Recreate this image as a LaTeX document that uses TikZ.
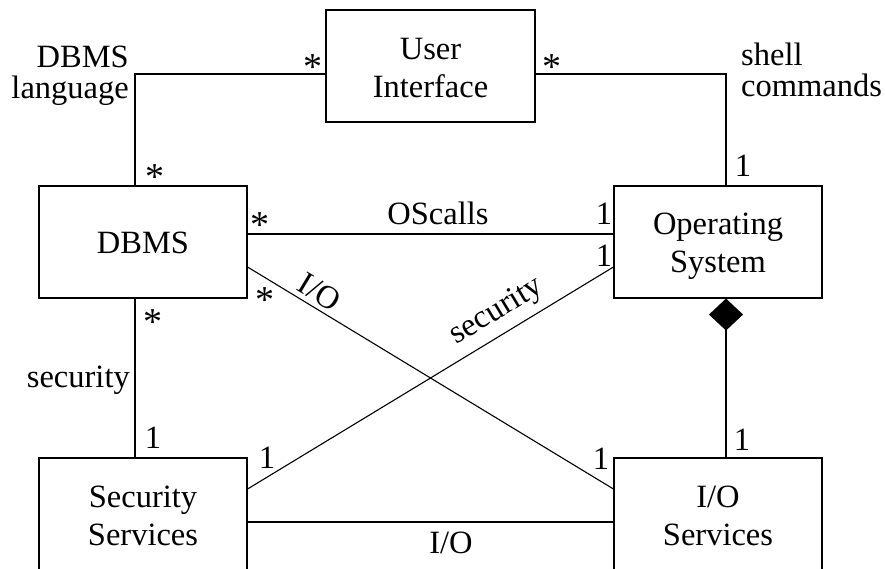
\documentclass[tikz,border=0pt]{standalone}
\usepackage{fontspec}
\setmainfont{Liberation Serif}
\usetikzlibrary{arrows.meta}
\begin{document}
\begin{tikzpicture}[x=1pt,y=-1pt,
  every node/.style={font=\fontsize{32.5}{38}\selectfont},
  cls/.style={draw, line width=1.1pt, minimum width=208pt, minimum height=112pt, align=center, inner sep=0pt, text depth=0pt},
  assoc/.style={line width=1.1pt},
  lbl/.style={inner sep=0pt},
  mult/.style={inner sep=0pt, anchor=base},
  star/.style={inner sep=0pt, anchor=base, font=\fontsize{38}{38}\selectfont},
  tight/.style={inner sep=0pt, font=\fontsize{32.5}{31}\selectfont}]
\useasboundingbox (0,0) rectangle (885,569);
% classes
\node[cls, minimum width=209pt, text height=64pt] (UI) at (430.5,66) {User\\Interface};
\node[cls, text height=24pt] (DBMS) at (143,242) {DBMS};
\node[cls, text height=60pt] (OS) at (718,242) {Operating\\System};
\node[cls, text height=62pt] (SS) at (143,514) {Security\\Services};
\node[cls, text height=62pt] (IOS) at (718,514) {I/O\\Services};
% connectors
\draw[assoc] ([yshift=-8pt]UI.west) -| ([xshift=-8pt]DBMS.north);
\draw[assoc] ([yshift=-8pt]UI.east) -| ([xshift=8pt]OS.north);
\draw[assoc] ([yshift=8pt]DBMS.east) -- ([yshift=8pt]OS.west);
\draw[assoc] ([yshift=-25pt]DBMS.east) -- ([yshift=25pt]IOS.west);
\draw[assoc] ([yshift=25pt]SS.east) -- ([yshift=-25pt]OS.west);
\draw[assoc] ([xshift=-8pt]DBMS.south) -- ([xshift=-8pt]SS.north);
\draw[assoc] ([yshift=-8pt]SS.east) -- ([yshift=-8pt]IOS.west);
\draw[assoc, {Diamond[length=32pt,width=34pt]}-] ([xshift=8pt]OS.south) -- ([xshift=8pt]IOS.north);
% association names
\node[tight, align=right, anchor=base east] (lDL) at (129,99) {DBMS\\language};
\node[tight, align=left, anchor=base west] (lSC) at (741,97) {shell\\commands};
\node[lbl, anchor=base] (lOS) at (438,225) {OScalls};
\node[lbl, rotate=-31.2] (lIO1) at (320,292) {I/O};
\node[lbl, rotate=31.2] (lSec1) at (497,312) {security};
\node[lbl, anchor=base east] (lSec2) at (130,387) {security};
\node[lbl, anchor=base] (lIO2) at (451,553) {I/O};
% multiplicities
\node[star] (m1) at (313,80) {*};
\node[star] (m2) at (552,80) {*};
\node[mult] (m3) at (743,177) {1};
\node[star] (m4) at (155,190) {*};
\node[star] (m5) at (260,237) {*};
\node[mult] (m6) at (604,225) {1};
\node[mult] (m7) at (604,266) {1};
\node[star] (m8) at (265,312) {*};
\node[star] (m9) at (153,334) {*};
\node[mult] (m10) at (153,448) {1};
\node[mult] (m11) at (267,468) {1};
\node[mult] (m12) at (601,469) {1};
\node[mult] (m13) at (742,450) {1};
\end{tikzpicture}
\end{document}
